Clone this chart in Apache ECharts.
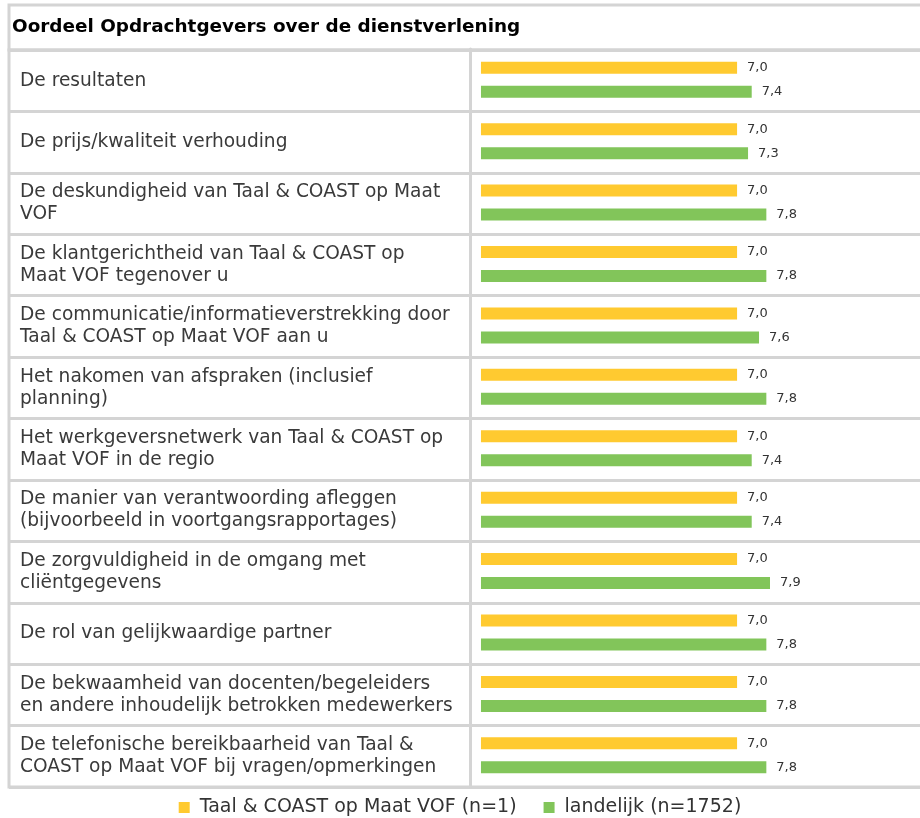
<!DOCTYPE html>
<html>
<head>
<meta charset="utf-8">
<script src="https://cdn.jsdelivr.net/npm/echarts@6/dist/echarts.min.js"></script>
<style>
  html, body { margin: 0; padding: 0; background: #fff; overflow: hidden; }
  #chart { width: 920px; height: 818px; }
</style>
</head>
<body>
<div id="chart"></div>
<script>
// rows of the table (line breaks as in the original layout)
const categories = [
  'De resultaten',
  'De prijs/kwaliteit verhouding',
  'De deskundigheid van Taal & COAST op Maat\nVOF',
  'De klantgerichtheid van Taal & COAST op\nMaat VOF tegenover u',
  'De communicatie/informatieverstrekking door\nTaal & COAST op Maat VOF aan u',
  'Het nakomen van afspraken (inclusief\nplanning)',
  'Het werkgeversnetwerk van Taal & COAST op\nMaat VOF in de regio',
  'De manier van verantwoording afleggen\n(bijvoorbeeld in voortgangsrapportages)',
  'De zorgvuldigheid in de omgang met\ncliëntgegevens',
  'De rol van gelijkwaardige partner',
  'De bekwaamheid van docenten/begeleiders\nen andere inhoudelijk betrokken medewerkers',
  'De telefonische bereikbaarheid van Taal &\nCOAST op Maat VOF bij vragen/opmerkingen'
];
const taalCoast = [7.0, 7.0, 7.0, 7.0, 7.0, 7.0, 7.0, 7.0, 7.0, 7.0, 7.0, 7.0];
const landelijk = [7.4, 7.3, 7.8, 7.8, 7.6, 7.8, 7.4, 7.4, 7.9, 7.8, 7.8, 7.8];
const seriesNames = ['Taal & COAST op Maat VOF (n=1)', 'landelijk (n=1752)'];
const chartTitle = 'Oordeel Opdrachtgevers over de dienstverlening';

const lineColor = '#d4d4d4';
const font = 'DejaVu Sans';

const fmt = function (p) {
  return p.value.toFixed(1).replace('.', ',');
};

let chart = echarts.init(document.getElementById('chart'));
let option = {
  animation: false,
  title: {
    text: chartTitle,
    left: 12,
    top: 18,
    padding: 0,
    textStyle: { fontFamily: font, fontSize: 18.4, fontWeight: 'bold', color: '#000' }
  },
  graphic: [{
    type: 'rect',
    shape: { x: 9, y: 5, width: 960, height: 45 },
    style: { fill: 'none', stroke: lineColor, lineWidth: 3 },
    silent: true
  }],
  legend: {
    data: seriesNames,
    left: 'center',
    top: 793,
    icon: 'rect',
    itemWidth: 11,
    itemHeight: 11,
    itemGap: 27,
    textStyle: { fontFamily: font, fontSize: 19, color: '#333', padding: [0, 0, 0, 5] }
  },
  grid: [
    // table frame and row lines (right edge runs off the picture)
    {
      left: 9, width: 960, top: 50, bottom: 31,
      outerBoundsMode: 'none', containLabel: false,
      show: true, borderColor: lineColor, borderWidth: 3
    },
    // bars
    { left: 470, width: 450, top: 49, bottom: 32, outerBoundsMode: 'none', containLabel: false }
  ],
  xAxis: [
    { gridIndex: 0, type: 'value', show: false },
    { gridIndex: 1, type: 'value', min: -0.3, max: 12, show: false }
  ],
  yAxis: [
    {
      gridIndex: 0,
      type: 'category',
      data: categories,
      inverse: true,
      axisLine: { show: false },
      axisTick: { show: false },
      axisLabel: {
        align: 'left',
        margin: -11,
        fontFamily: font,
        fontSize: 18.6,
        lineHeight: 22,
        color: '#3a3a3a'
      },
      splitLine: { show: true, lineStyle: { color: lineColor, width: 3 } }
    },
    {
      gridIndex: 1,
      type: 'category',
      data: categories,
      inverse: true,
      axisLine: { show: true, onZero: false, lineStyle: { color: lineColor, width: 3 } },
      axisTick: { show: false },
      axisLabel: { show: false },
      splitLine: { show: false }
    }
  ],
  series: [
    {
      name: seriesNames[0],
      type: 'bar',
      xAxisIndex: 1,
      yAxisIndex: 1,
      data: taalCoast,
      barWidth: 12,
      barGap: '100%',
      itemStyle: { color: '#ffca30' },
      label: {
        show: true, position: 'right', distance: 10, formatter: fmt,
        fontFamily: font, fontSize: 13, color: '#333'
      }
    },
    {
      name: seriesNames[1],
      type: 'bar',
      xAxisIndex: 1,
      yAxisIndex: 1,
      data: landelijk,
      barWidth: 12,
      barGap: '100%',
      itemStyle: { color: '#82c55a' },
      label: {
        show: true, position: 'right', distance: 10, formatter: fmt,
        fontFamily: font, fontSize: 13, color: '#333'
      }
    }
  ]
};
chart.setOption(option);
</script>
</body>
</html>
